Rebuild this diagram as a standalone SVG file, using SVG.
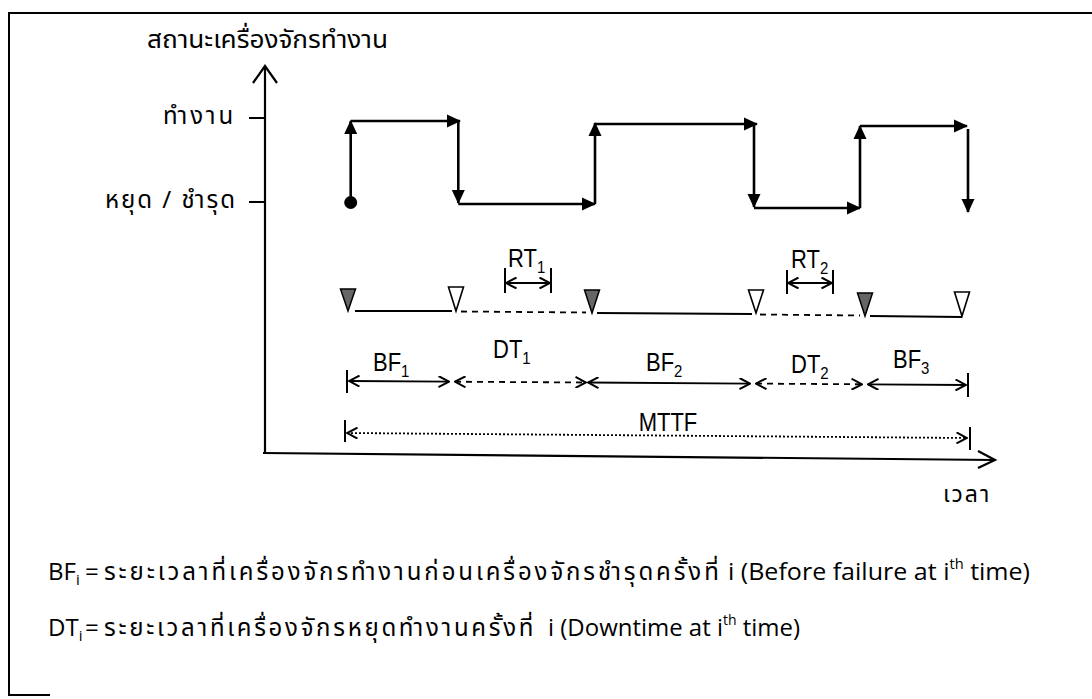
<svg xmlns="http://www.w3.org/2000/svg" width="1092" height="699" viewBox="0 0 1092 699">
<style>
.th{font-family:"Noto Sans Thai","Leelawadee UI",Tahoma,"Noto Sans","Open Sans",sans-serif;fill:#000}
.lt{font-family:"Liberation Sans",Arial,sans-serif;font-size:25px;fill:#000}
.bt{font-family:"Open Sans","Noto Sans Thai","Noto Sans",sans-serif;font-size:24px;fill:#000}
.wave{stroke:#000;stroke-width:2.6;fill:none;marker-end:url(#ah)}
.ax{stroke:#000;stroke-width:2.2;fill:none}
.dim{stroke:#000;stroke-width:1.8;fill:none;marker-start:url(#ch);marker-end:url(#ch)}
.dash{stroke-dasharray:6 5}
.dot{stroke-dasharray:2 2}
.bar{stroke:#000;stroke-width:2;fill:none}
.tf{fill:#666;stroke:#000;stroke-width:1.5}
.to{fill:#fff;stroke:#000;stroke-width:1.6}
.tl{stroke:#000;stroke-width:1.8;fill:none}
</style>
<defs>
<marker id="ah" viewBox="0 0 14 14" refX="13" refY="7" markerWidth="14" markerHeight="14" markerUnits="userSpaceOnUse" orient="auto"><path d="M0,0.5 L14,7 L0,13.5 Z" fill="#000"/></marker>
<marker id="ch" viewBox="0 0 12 12" refX="11" refY="6" markerWidth="12" markerHeight="12" markerUnits="userSpaceOnUse" orient="auto-start-reverse"><path d="M0.5,0.5 L11,6 L0.5,11.5" fill="none" stroke="#000" stroke-width="2"/></marker>
</defs>
<rect width="1092" height="699" fill="#fff"/>
<path d="M50,695 H9 V13 H1092" fill="none" stroke="#000" stroke-width="2"/>

<g id="axes">
<path class="ax" d="M265,453 V67"/>
<path class="ax" d="M253,83 L265,66 L277,83"/>
<path class="ax" d="M263,453 L995,460"/>
<path class="ax" d="M978,451 L995,460 L978,468"/>
<path class="ax" d="M249,118 H265 M249,202 H265"/>
<text class="th" x="147" y="48" font-size="25" textLength="241" lengthAdjust="spacingAndGlyphs">สถานะเครื่องจักรทำงาน</text>
<text class="th" x="163" y="124" font-size="24" letter-spacing="2.8">ทำงาน</text>
<text class="th" x="105" y="208" font-size="24" letter-spacing="2">หยุด / ชำรุด</text>
<text class="th" x="943" y="502" font-size="23" letter-spacing="2">เวลา</text>
</g>

<g id="connectors">
<path class="wave" d="M350.7,202 V121"/>
<path class="wave" d="M350.7,121 H460"/>
<path class="wave" d="M458.3,121 V203"/>
<path class="wave" d="M458.3,204 H595"/>
<path class="wave" d="M595,204 V123"/>
<path class="wave" d="M595,124 H757"/>
<path class="wave" d="M754,124 V207"/>
<path class="wave" d="M754,208 H860"/>
<path class="wave" d="M860,208 V126"/>
<path class="wave" d="M860,126 H967"/>
<path class="wave" d="M968,129 V212"/>
</g>
<g id="start-dot"><circle cx="350.7" cy="202.5" r="6.5" fill="#000"/></g>

<g id="timeline">
<path class="tl" d="M355,311 L452,311"/>
<path class="tl dash" d="M461,311.5 L586,312.5"/>
<path class="tl" d="M597,313 L752,314"/>
<path class="tl dash" d="M760,314.5 L860,315.5"/>
<path class="tl" d="M870,316 L962,317"/>
<polygon class="tf" points="340.5,289 355.5,289 348,311"/>
<polygon class="to" points="448.5,287 463.5,287 456,311"/>
<polygon class="tf" points="584.5,290 599.5,290 592,313"/>
<polygon class="to" points="748.5,290 763.5,290 756,313"/>
<polygon class="tf" points="857.5,293 872.5,293 865,316"/>
<polygon class="to" points="954.5,292 969.5,292 962,316"/>
</g>

<g id="rt1">
<path class="bar" d="M505,268 V293 M551,268 V293"/>
<path class="dim" d="M506,283 H550"/>
<text class="lt" transform="translate(508,267) scale(0.88,1)">RT<tspan font-size="17" dy="6">1</tspan></text>
</g>
<g id="rt2">
<path class="bar" d="M787,270 V294 M833,270 V294"/>
<path class="dim" d="M788,283 H832"/>
<text class="lt" transform="translate(791,268) scale(0.88,1)">RT<tspan font-size="17" dy="6">2</tspan></text>
</g>

<g id="periods">
<path class="bar" d="M347,370 V393 M968,373 V397"/>
<path class="dim" d="M349,381 L449,381.6"/>
<path class="dim dash" d="M455,381.7 L586,382.5"/>
<path class="dim" d="M588,382.5 L750,383.6"/>
<path class="dim dash" d="M756,383.6 L862,384.3"/>
<path class="dim" d="M868,384.4 L966,385"/>
<text class="lt" transform="translate(373,371) scale(0.88,1)">BF<tspan font-size="17" dy="6">1</tspan></text>
<text class="lt" transform="translate(493,358) scale(0.88,1)">DT<tspan font-size="17" dy="6">1</tspan></text>
<text class="lt" transform="translate(646,371) scale(0.88,1)">BF<tspan font-size="17" dy="6">2</tspan></text>
<text class="lt" transform="translate(791,373) scale(0.88,1)">DT<tspan font-size="17" dy="6">2</tspan></text>
<text class="lt" transform="translate(893,368) scale(0.88,1)">BF<tspan font-size="17" dy="6">3</tspan></text>
</g>

<g id="mttf">
<path class="bar" d="M345,420 V442 M970,427 V450"/>
<path class="dim dot" d="M347,433 L967,438"/>
<text class="lt" transform="translate(668,431) scale(0.88,1)" text-anchor="middle">MTTF</text>
</g>

<g id="legend">
<text class="bt" x="48" y="580">BF<tspan font-size="15" dy="5">i</tspan></text>
<text class="bt" x="85" y="580">=</text>
<text class="bt" x="104" y="580" letter-spacing="2.9">ระยะเวลาที่เครื่องจักรทำงานก่อนเครื่องจักรชำรุดครั้งที่</text>
<text class="bt" x="728" y="580" textLength="302" lengthAdjust="spacingAndGlyphs">i (Before failure at i<tspan font-size="14" dy="-11">th</tspan><tspan dy="11"> time)</tspan></text>
<text class="bt" x="48" y="636">DT<tspan font-size="15" dy="5">i</tspan></text>
<text class="bt" x="85" y="636">=</text>
<text class="bt" x="104" y="636" letter-spacing="2.7">ระยะเวลาที่เครื่องจักรหยุดทำงานครั้งที่</text>
<text class="bt" x="548" y="636" textLength="252" lengthAdjust="spacingAndGlyphs">i (Downtime at i<tspan font-size="14" dy="-11">th</tspan><tspan dy="11"> time)</tspan></text>
</g>
</svg>
